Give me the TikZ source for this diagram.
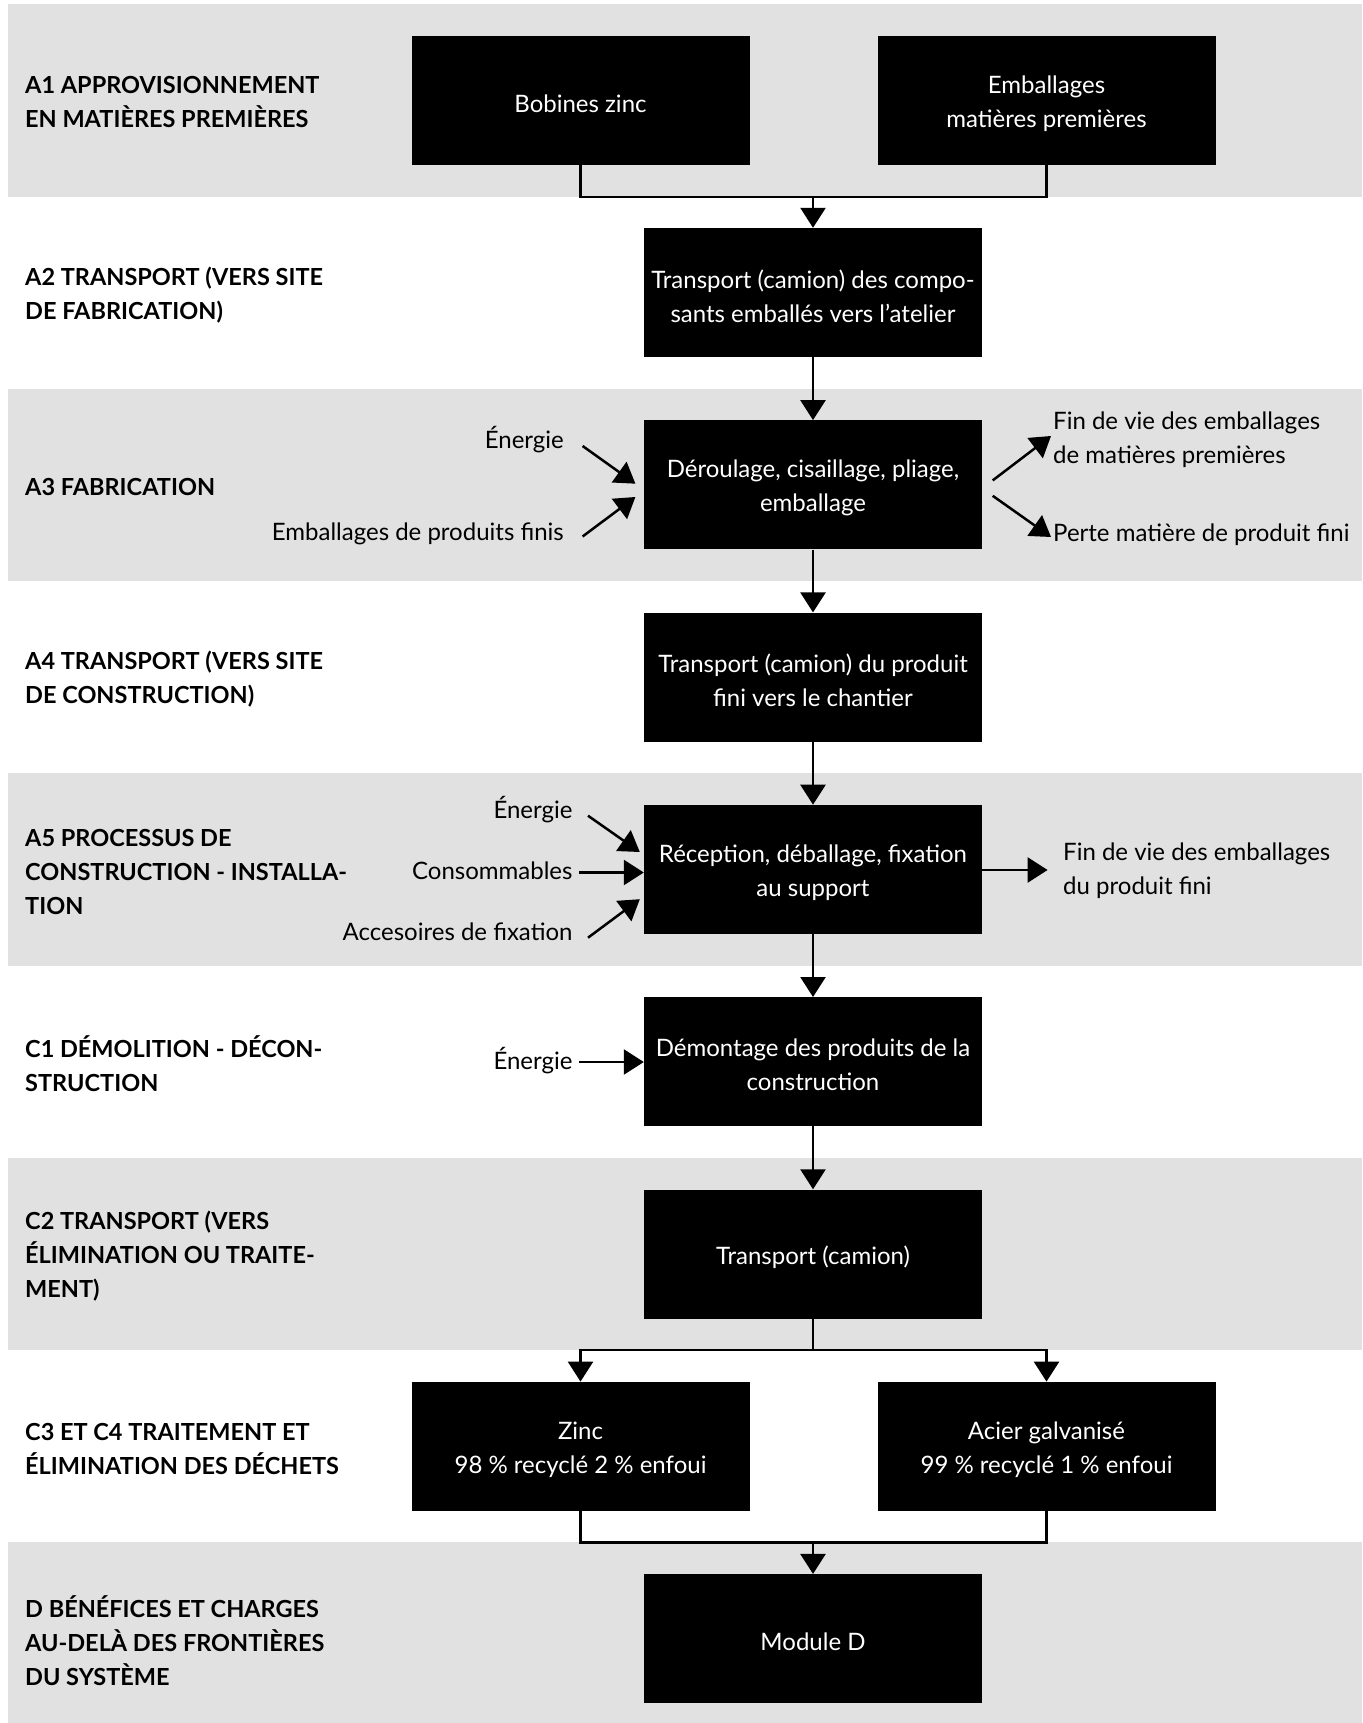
\documentclass[tikz,border=0pt]{standalone}
\usepackage{fontspec}
\setmainfont{Lato}
\usetikzlibrary{arrows.meta}
\definecolor{bandgray}{HTML}{E1E1E1}
\newcommand\boxnode[3]{\node[box] (#1) at #2 {};
  \node[btxt] (#1-t) at ([yshift=-3.5pt]#1.center) {#3};}
\begin{document}
\begin{tikzpicture}[x=1pt,y=-1pt,
  box/.style={fill=black, minimum width=338pt, minimum height=129pt, inner sep=0pt},
  btxt/.style={text=white, inner sep=0pt, align=center, font=\fontsize{24}{34}\selectfont},
  lab/.style={anchor=west, align=left, font=\fontsize{23.5}{34}\selectfont\bfseries, inner sep=0pt},
  side/.style={font=\fontsize{24}{34}\selectfont, inner sep=0pt},
  arr/.style={line width=2.5pt, -{Triangle[length=20pt,width=25pt]}},
  ln/.style={line width=2.5pt},
]
\useasboundingbox (0,0) rectangle (1362,1723);
% bands
\fill[bandgray] (8,4) rectangle (1362,196.8);
\fill[bandgray] (8,388.6) rectangle (1362,581);
\fill[bandgray] (8,773.2) rectangle (1362,965.5);
\fill[bandgray] (8,1157.8) rectangle (1362,1350);
\fill[bandgray] (8,1542.4) rectangle (1362,1723);

% left labels
\node[lab] (l1) at (25,102.5) {A1 APPROVISIONNEMENT\\EN MATIÈRES PREMIÈRES};
\node[lab] (l2) at (25,294.8) {A2 TRANSPORT (VERS SITE\\DE FABRICATION)};
\node[lab] (l3) at (25,487.1) {A3 FABRICATION};
\node[lab] (l4) at (25,679.4) {A4 TRANSPORT (VERS SITE\\DE CONSTRUCTION)};
\node[lab] (l5) at (25,871.7) {A5 PROCESSUS DE\\CONSTRUCTION - INSTALLA-\\TION};
\node[lab] (l6) at (25,1064) {C1 DÉMOLITION - DÉCON-\\STRUCTION};
\node[lab] (l7) at (25,1256.3) {C2 TRANSPORT (VERS\\ÉLIMINATION OU TRAITE-\\MENT)};
\node[lab] (l8) at (25,1448.6) {C3 ET C4 TRAITEMENT ET\\ÉLIMINATION DES DÉCHETS};
\node[lab] (l9) at (25,1640.9) {D BÉNÉFICES ET CHARGES\\AU-DELÀ DES FRONTIÈRES\\DU SYSTÈME};

% boxes
\boxnode{bob}{(580.5,100.2)}{Bobines zinc}
\boxnode{emb}{(1046.5,100.2)}{Emballages\\matières premières}
\boxnode{t2}{(813,292.5)}{Transport (camion) des compo-\\sants emballés vers l’atelier}
\boxnode{fab}{(813,484.8)}{Déroulage, cisaillage, pliage,\\emballage}
\boxnode{t4}{(813,677.1)}{Transport (camion) du produit\\fini vers le chantier}
\boxnode{rec}{(813,869.4)}{Réception, déballage, fixation\\au support}
\boxnode{dem}{(813,1061.7)}{Démontage des produits de la\\construction}
\boxnode{t6}{(813,1254)}{Transport (camion)}
\boxnode{zn}{(580.5,1446.3)}{Zinc\\98 \% recyclé 2 \% enfoui}
\boxnode{ac}{(1046.5,1446.3)}{Acier galvanisé\\99 \% recyclé 1 \% enfoui}
\boxnode{md}{(813,1638.6)}{Module D}

% main flow
\coordinate (m1) at (813,196.8);
\draw[ln] (bob.south) |- (m1) -| (emb.south);
\draw[arr] (m1) -- (t2.north);
\draw[arr] (t2) -- (fab);
\draw[arr] (fab) -- (t4);
\draw[arr] (t4) -- (rec);
\draw[arr] (rec) -- (dem);
\draw[arr] (dem) -- (t6);
\coordinate (s1) at (813,1350);
\draw[ln] (t6.south) -- (s1);
\draw[arr] (s1) -| (zn.north);
\draw[arr] (s1) -| (ac.north);
\coordinate (m2) at (813,1542.4);
\draw[ln] (zn.south) |- (m2) -| (ac.south);
\draw[arr] (m2) -- (md.north);

% A3 side flows
\node[side, anchor=east] (e3) at (564,440) {Énergie};
\node[side, anchor=east] (p3) at (564,534) {Emballages de produits finis};
\coordinate (e3s) at (582.6,446);
\coordinate (e3t) at (635.4,483.7);
\coordinate (p3s) at (582.6,536.5);
\coordinate (p3t) at (635.4,497);
\draw[arr] (e3s) -- (e3t);
\draw[arr] (p3s) -- (p3t);
\node[side, anchor=west, align=left] (fv3) at (1053,440) {Fin de vie des emballages\\de matières premières};
\node[side, anchor=west] (pm3) at (1053,535) {Perte matière de produit fini};
\coordinate (f3s) at (992.7,480.4);
\coordinate (f3t) at (1051,436);
\coordinate (q3s) at (992.7,495.8);
\coordinate (q3t) at (1051,537);
\draw[arr] (f3s) -- (f3t);
\draw[arr] (q3s) -- (q3t);

% A5 side flows
\node[side, anchor=east] (e5) at (572.7,810) {Énergie};
\node[side, anchor=east] (c5) at (572.7,871) {Consommables};
\node[side, anchor=east] (a5) at (572.7,932) {Accesoires de fixation};
\coordinate (e5s) at (588,815.7);
\coordinate (e5t) at (639.8,852);
\coordinate (c5s) at (579,872.5);
\coordinate (a5s) at (588,937.7);
\coordinate (a5t) at (639.8,899.2);
\draw[arr] (e5s) -- (e5t);
\draw[arr] (c5s) -- (c5s -| rec.west);
\draw[arr] (a5s) -- (a5t);
\node[side, anchor=west, align=left] (fv5) at (1063,871) {Fin de vie des emballages\\du produit fini};
\coordinate (o5t) at (1047.6,870);
\draw[arr] (o5t -| rec.east) -- (o5t);

% C1 side flow
\node[side, anchor=east] (e6) at (572.7,1061) {Énergie};
\coordinate (e6s) at (579,1062);
\draw[arr] (e6s) -- (e6s -| dem.west);
\end{tikzpicture}
\end{document}
